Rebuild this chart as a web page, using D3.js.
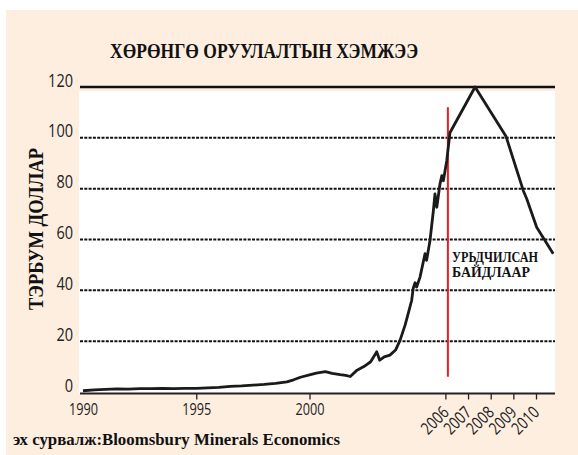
<!DOCTYPE html>
<html>
<head>
<meta charset="utf-8">
<script src="https://cdn.jsdelivr.net/npm/d3@7"></script>
<style>
  html, body { margin: 0; padding: 0; background: #ffffff; }
  svg { display: block; }
</style>
</head>
<body>
<svg id="chart" width="578" height="455"></svg>
<script>
// investment volume, bn USD
const years = [
    1990.0, 1990.5, 1991.0, 1991.5, 1992.0, 1992.5, 1993.0, 1993.5, 1994.0, 1994.5,
    1995.0, 1995.5, 1996.0, 1996.5, 1997.0, 1997.5, 1998.0, 1998.5, 1999.0, 1999.3,
    1999.6, 2000.0, 2000.3, 2000.7, 2001.0, 2001.35, 2001.6, 2001.8, 2002.1, 2002.4,
    2002.7, 2002.97, 2003.1, 2003.3, 2003.55, 2003.8, 2004.0, 2004.22, 2004.36, 2004.51,
    2004.58, 2004.66, 2004.73, 2004.88, 2005.1, 2005.17, 2005.32, 2005.47, 2005.54, 2005.62,
    2005.76, 2005.84, 2005.91, 2006.06, 2006.2, 2007.31, 2008.68, 2009.44, 2009.59, 2010.03,
    2010.76
];
const values = [
    0.5, 0.8, 1.0, 1.2, 1.1, 1.3, 1.3, 1.4, 1.3, 1.4,
    1.4, 1.6, 1.8, 2.2, 2.4, 2.7, 3.0, 3.4, 4.0, 4.8,
    5.8, 6.7, 7.4, 8.0, 7.3, 6.8, 6.5, 6.1, 8.6, 10.0,
    11.9, 15.8, 12.5, 13.8, 14.5, 16.5, 20.4, 26.3, 30.9, 36.0,
    40.8, 43.0, 41.3, 45.2, 54.4, 51.8, 59.6, 71.4, 77.9, 72.7,
    81.8, 85.1, 83.1, 91.0, 102.0, 120.0, 100.5, 79.2, 76.0, 64.8,
    54.4
];
const yTicks = [0, 20, 40, 60, 80, 100, 120];
const xTicks = [1990, 1995, 2000, 2006, 2007, 2008, 2009, 2010];
const forecastYear = 2006.11;
const forecastRange = [6, 112];

const titleText = 'ХӨРӨНГӨ ОРУУЛАЛТЫН ХЭМЖЭЭ';
const yLabelText = 'ТЭРБУМ ДОЛЛАР';
const noteLines = ['УРЬДЧИЛСАН', 'БАЙДЛААР'];
const sourceText = 'эх сурвалж:Bloomsbury Minerals Economics';

const svg = d3.select('#chart');
const numFont = '"Open Sans", "DejaVu Sans Condensed", sans-serif';
const serifFont = '"Liberation Serif", "DejaVu Serif", serif';

const x = d3.scaleLinear().domain([1990, 2010]).range([83, 536]);
const y = d3.scaleLinear().domain([0, 120]).range([392, 87]);
const left = 80;
const right = 555;

// panels
svg.append('rect')
    .attr('x', 6).attr('y', 10)
    .attr('width', 572).attr('height', 445)
    .attr('fill', '#fdeee0');
svg.append('rect')
    .attr('x', 79).attr('y', 91)
    .attr('width', right - 79).attr('height', 303)
    .attr('fill', '#ffffff');

// title
svg.append('text')
    .attr('x', 264).attr('y', 58)
    .attr('text-anchor', 'middle')
    .attr('font-family', serifFont)
    .attr('font-weight', 'bold')
    .attr('font-size', 22)
    .attr('fill', '#111')
    .attr('textLength', 308)
    .attr('lengthAdjust', 'spacingAndGlyphs')
    .text(titleText);

// gridlines
svg.append('g')
    .selectAll('line')
    .data(yTicks.filter((d) => d > 0))
    .join('line')
    .attr('x1', left).attr('x2', right)
    .attr('y1', (d) => y(d)).attr('y2', (d) => y(d))
    .attr('stroke', '#111')
    .attr('stroke-width', (d) => d === 120 ? 2.4 : 2)
    .attr('stroke-dasharray', (d) => d === 120 ? null : '3,1.3');

// y tick labels
svg.append('g')
    .selectAll('text')
    .data(yTicks)
    .join('text')
    .attr('x', 73)
    .attr('y', (d) => y(d) - 0.5)
    .attr('text-anchor', 'end')
    .attr('font-family', numFont)
    .attr('font-size', 17.5)
    .attr('fill', '#222')
    .attr('textLength', (d) => String(d).length * 8.3)
    .attr('lengthAdjust', 'spacingAndGlyphs')
    .text((d) => d);

// y label
svg.append('text')
    .attr('transform', 'translate(43,229) rotate(-90)')
    .attr('text-anchor', 'middle')
    .attr('font-family', serifFont)
    .attr('font-weight', 'bold')
    .attr('font-size', 21)
    .attr('fill', '#111')
    .attr('textLength', 162)
    .attr('lengthAdjust', 'spacingAndGlyphs')
    .text(yLabelText);

// x axis
const xAxis = svg.append('g')
    .attr('transform', 'translate(0,393.5)')
    .call(d3.axisBottom(x).tickValues(xTicks).tickSize(6).tickFormat(d3.format('d')));
xAxis.select('.domain').remove();
xAxis.append('line')
    .attr('x1', left).attr('x2', right)
    .attr('stroke', '#222').attr('stroke-width', 2);
xAxis.selectAll('.tick line')
    .attr('stroke', '#222').attr('stroke-width', 1.3)
    .attr('opacity', (d) => d === 1990 ? 0 : 1);
xAxis.selectAll('.tick text')
    .attr('font-family', numFont)
    .attr('font-size', 17)
    .attr('fill', '#222')
    .attr('textLength', 29)
    .attr('lengthAdjust', 'spacingAndGlyphs');
xAxis.selectAll('.tick text')
    .filter((d) => d < 2006)
    .attr('y', 9).attr('dy', '0.71em');
xAxis.selectAll('.tick text')
    .filter((d) => d >= 2006)
    .attr('text-anchor', 'end')
    .attr('dy', 0)
    .attr('y', 0)
    .attr('textLength', 31)
    .attr('transform', 'translate(4,20) rotate(-45)');

// forecast marker
svg.append('line')
    .attr('x1', x(forecastYear)).attr('x2', x(forecastYear))
    .attr('y1', y(forecastRange[1])).attr('y2', y(forecastRange[0]))
    .attr('stroke', '#ec1c24')
    .attr('stroke-width', 2);

const note = svg.append('g')
    .attr('font-family', serifFont)
    .attr('font-weight', 'bold')
    .attr('font-size', 15)
    .attr('fill', '#111');
note.append('text').attr('x', 452).attr('y', 262)
    .attr('textLength', 86).attr('lengthAdjust', 'spacingAndGlyphs')
    .text(noteLines[0]);
note.append('text').attr('x', 452).attr('y', 277)
    .attr('textLength', 78).attr('lengthAdjust', 'spacingAndGlyphs')
    .text(noteLines[1]);

// series
const line = d3.line()
    .x((d, i) => x(years[i]))
    .y((d) => y(d));
svg.append('path')
    .datum(values)
    .attr('d', line)
    .attr('fill', 'none')
    .attr('stroke', '#1a1a1a')
    .attr('stroke-width', 2.8)
    .attr('stroke-linejoin', 'round');

// source
svg.append('text')
    .attr('x', 13).attr('y', 445)
    .attr('font-family', serifFont)
    .attr('font-weight', 'bold')
    .attr('font-size', 17)
    .attr('fill', '#111')
    .attr('textLength', 327)
    .attr('lengthAdjust', 'spacingAndGlyphs')
    .text(sourceText);
</script>
</body>
</html>
